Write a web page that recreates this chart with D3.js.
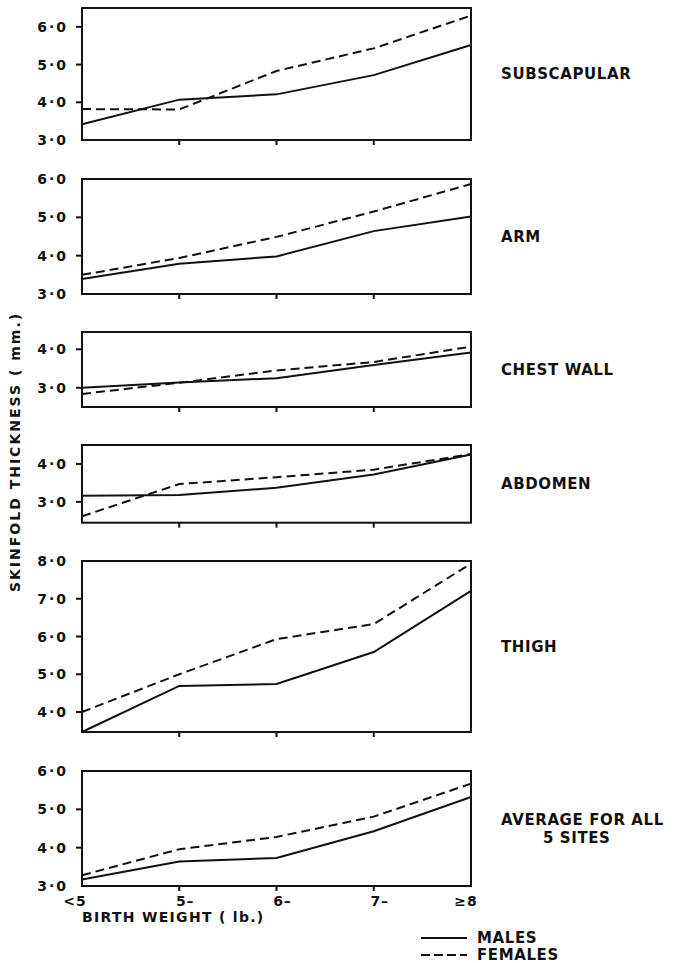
<!DOCTYPE html>
<html>
<head>
<meta charset="utf-8">
<script src="https://cdn.jsdelivr.net/npm/d3@7"></script>
<style>
  body { margin: 0; background: #fff; }
  text { font-family: "DejaVu Sans", sans-serif; font-weight: bold; fill: #111; }
</style>
</head>
<body>
<svg id="svg" width="674" height="963"></svg>
<script>
const svg = d3.select("#svg");

// birth weight groups (lb.)
const categories = ["<5", "5\u2013", "6\u2013", "7\u2013", "\u22658"];

const sites = ["SUBSCAPULAR", "ARM", "CHEST WALL", "ABDOMEN", "THIGH", "AVERAGE FOR ALL|5 SITES"];

// skinfold thickness (mm.)
const males = [
  [3.42, 4.07, 4.21, 4.72, 5.52],
  [3.39, 3.79, 3.98, 4.64, 5.02],
  [3.00, 3.14, 3.25, 3.59, 3.92],
  [3.16, 3.18, 3.37, 3.72, 4.25],
  [3.47, 4.69, 4.74, 5.59, 7.21],
  [3.17, 3.64, 3.73, 4.43, 5.32]
];
const females = [
  [3.82, 3.81, 4.83, 5.43, 6.30],
  [3.50, 3.94, 4.49, 5.15, 5.87],
  [2.84, 3.13, 3.45, 3.67, 4.07],
  [2.62, 3.47, 3.65, 3.85, 4.26],
  [4.00, 5.00, 5.93, 6.33, 7.93],
  [3.28, 3.96, 4.28, 4.81, 5.67]
];

const yDomains = [[3, 6.5], [3, 6], [2.5, 4.45], [2.45, 4.5], [3.47, 8], [3, 6]];
const yTicks = [[3, 4, 5, 6], [3, 4, 5, 6], [3, 4], [3, 4], [4, 5, 6, 7, 8], [3, 4, 5, 6]];

// panel frames: top / bottom pixel of each box
const frames = [[8, 140], [179, 294], [332, 407], [445, 522.7], [561, 732], [771, 886]];
const left = 82, right = 471;

const x = d3.scalePoint().domain(categories).range([left, right]);
const fmt = d => d.toFixed(1).replace(".", "\u00b7");

const line = d3.line().x((d, i) => x(categories[i]));

sites.forEach((site, k) => {
  const [top, bottom] = frames[k];
  const y = d3.scaleLinear().domain(yDomains[k]).range([bottom, top]);
  const g = svg.append("g");

  // y axis ticks + labels (skip the ones sitting on the frame corners)
  const inner = yTicks[k].filter(t => Math.abs(y(t) - top) > 1 && Math.abs(y(t) - bottom) > 1);
  g.selectAll("line.yt")
    .data(inner)
    .join("line")
    .attr("x1", left - 6).attr("x2", left)
    .attr("y1", d => y(d)).attr("y2", d => y(d))
    .attr("stroke", "#111").attr("stroke-width", 2);
  g.selectAll("text.yl")
    .data(yTicks[k])
    .join("text")
    .attr("x", 68)
    .attr("y", d => y(d))
    .attr("dy", "0.36em")
    .attr("text-anchor", "end")
    .attr("font-size", 14)
    .attr("letter-spacing", 2)
    .text(fmt);

  // x ticks under each box (interior only)
  g.selectAll("line.xt")
    .data(categories.slice(1, -1))
    .join("line")
    .attr("x1", d => x(d)).attr("x2", d => x(d))
    .attr("y1", bottom).attr("y2", bottom + 5)
    .attr("stroke", "#111").attr("stroke-width", 2);

  // series
  g.append("path")
    .attr("d", line.y(d => y(d))(males[k]))
    .attr("fill", "none").attr("stroke", "#111").attr("stroke-width", 2);
  g.append("path")
    .attr("d", line.y(d => y(d))(females[k]))
    .attr("fill", "none").attr("stroke", "#111").attr("stroke-width", 2)
    .attr("stroke-dasharray", "9,5");

  // frame
  g.append("rect")
    .attr("x", left).attr("y", top)
    .attr("width", right - left).attr("height", bottom - top)
    .attr("fill", "none").attr("stroke", "#111").attr("stroke-width", 2);

  // site label on the right
  const parts = site.split("|");
  const mid = (top + bottom) / 2;
  parts.forEach((p, j) => {
    g.append("text")
      .attr("x", j == 0 ? 501 : 543)
      .attr("y", mid - (parts.length - 1) * 9 + j * 18)
      .attr("dy", "0.36em")
      .attr("font-size", 15)
      .attr("letter-spacing", 0.6)
      .text(p);
  });
});

// x labels under the last panel
const xOffsets = [-7, 6, 6, 6, -5];
svg.append("g")
  .selectAll("text")
  .data(categories)
  .join("text")
  .attr("x", (d, i) => x(d) + xOffsets[i])
  .attr("y", 906)
  .attr("text-anchor", "middle")
  .attr("font-size", 14)
  .attr("letter-spacing", 1)
  .text(d => d);

svg.append("text")
  .attr("x", 82).attr("y", 922)
  .attr("font-size", 14)
  .attr("letter-spacing", 1.3)
  .text("BIRTH WEIGHT ( lb.)");

svg.append("text")
  .attr("transform", "translate(20,452) rotate(-90)")
  .attr("text-anchor", "middle")
  .attr("font-size", 14)
  .attr("letter-spacing", 2)
  .text("SKINFOLD THICKNESS ( mm.)");

// legend
const legend = svg.append("g");
const legendItems = [
  { label: "MALES", dash: null, y: 938 },
  { label: "FEMALES", dash: "9,4", y: 955 }
];
legendItems.forEach(d => {
  legend.append("line")
    .attr("x1", 421).attr("x2", 467)
    .attr("y1", d.y).attr("y2", d.y)
    .attr("stroke", "#111").attr("stroke-width", 2)
    .attr("stroke-dasharray", d.dash);
  legend.append("text")
    .attr("x", 477).attr("y", d.y + 5)
    .attr("font-size", 15)
    .attr("letter-spacing", 0.6)
    .text(d.label);
});
</script>
</body>
</html>
